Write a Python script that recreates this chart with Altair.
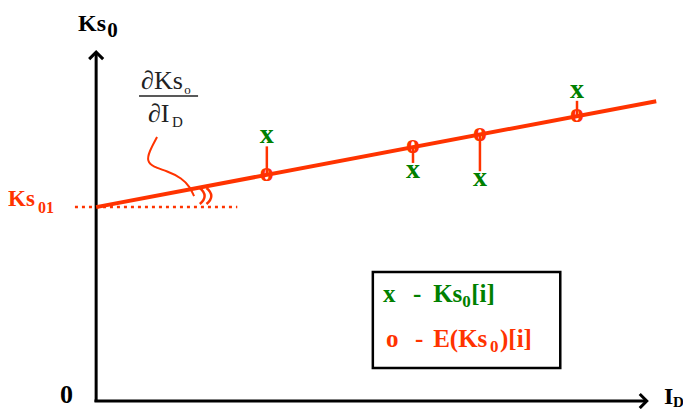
import altair as alt
import pandas as pd

RED = "#FF3300"
GREEN = "#008000"
BLACK = "#000000"
SERIF = "Liberation Serif"

# ---- data (arbitrary units: I_D horizontally, Ks0 vertically) ----
i_d = [3.06, 5.68, 6.88, 8.62]          # observation positions
ks0 = [7.64, 6.64, 6.40, 8.96]          # measured Ks0[i]  (x markers)
e_ks0 = [6.56, 7.36, 7.72, 8.26]        # expected E(Ks0)[i] (o markers)

fit_x = [0.0, 10.04]
fit_y = [5.62, 8.69]
ks01 = 5.62
ks01_span = [-0.38, 2.53]

axis_y_top = 10.11
axis_x_end = 9.87

# annotation curve (from fraction to angle)
curve_x = [1.092, 0.948, 0.912, 1.020, 1.271, 1.540, 1.683, 1.755]
curve_y = [7.652, 7.217, 6.956, 6.782, 6.666, 6.459, 6.198, 5.937]
angle_marks_x = [1.93, 2.05]
angle_marks_y = [5.94, 5.94]

frac_bar_x = [0.769, 1.827]
frac_bar_y = 8.84

legend_box = dict(x=4.96, x2=8.32, y=0.96, y2=3.74)

# bold labels
b_text = ["Ks", "0", "Ks", "01", "0", "I", "D",
          "x", "-", "Ks", "0", "[i]",
          "o", "-", "E(Ks", "0", ")[i]"]
b_x = [-0.324, 0.200, -1.578, -1.041, -0.647, 10.180, 10.341,
       5.144, 5.682, 6.041, 6.561, 6.722,
       5.198, 5.718, 6.041, 7.061, 7.240]
b_y = [10.723, 10.549, 5.652, 5.449, -0.056, -0.085, -0.170,
       2.870, 2.870, 2.870, 2.725, 2.870,
       1.567, 1.567, 1.567, 1.422, 1.567]
b_size = [24, 21, 23, 16, 26, 24, 15,
          25, 25, 25, 17, 25,
          25, 25, 25, 17, 25]
b_color = [BLACK, BLACK, RED, RED, BLACK, BLACK, BLACK,
           GREEN, GREEN, GREEN, GREEN, GREEN,
           RED, RED, RED, RED, RED]

# regular (fraction) labels
r_text = ["∂Ks", "o", "∂I", "D"]
r_x = [0.805, 1.58, 0.930, 1.36]
r_y = [9.043, 8.898, 8.084, 7.939]
r_size = [26, 13, 26, 15]

# ---- scales ----
xs = alt.Scale(domain=[-1.58, 10.52], nice=False, zero=False)
ys = alt.Scale(domain=[-0.23, 11.39], nice=False, zero=False)
X = lambda f: alt.X(f, type="quantitative", scale=xs, axis=None)
Y = lambda f: alt.Y(f, type="quantitative", scale=ys, axis=None)

# axes
axes_df = pd.DataFrame({
    "x": [0.0, -0.03], "x2": [0.0, axis_x_end],
    "y": [-0.03, 0.0], "y2": [axis_y_top, 0.0],
})
axes = alt.Chart(axes_df).mark_rule(color=BLACK, strokeWidth=3).encode(
    x=X("x"), x2="x2", y=Y("y"), y2="y2")

arrow_up = alt.Chart(pd.DataFrame({"x": [0.0], "y": [axis_y_top]})).mark_point(
    shape="M-1,1L0,0L1,1", size=196, filled=False, color=BLACK, strokeWidth=3,
    opacity=1).encode(x=X("x"), y=Y("y"))
arrow_right = alt.Chart(pd.DataFrame({"x": [axis_x_end], "y": [0.0]})).mark_point(
    shape="M-1,-1L0,0L-1,1", size=196, filled=False, color=BLACK, strokeWidth=3,
    opacity=1).encode(x=X("x"), y=Y("y"))

# dotted reference line
dotted = alt.Chart(pd.DataFrame({"x": [ks01_span[0]], "x2": [ks01_span[1]],
                                 "y": [ks01]})).mark_rule(
    color=RED, strokeWidth=2.5, strokeDash=[3, 4]).encode(
    x=X("x"), x2="x2", y=Y("y"))

# fitted line
fit = alt.Chart(pd.DataFrame({"x": fit_x, "y": fit_y})).mark_line(
    color=RED, strokeWidth=4).encode(x=X("x"), y=Y("y"))

# residual segments
res_df = pd.DataFrame({"x": i_d, "e": e_ks0, "k": ks0})
res_df["k_end"] = [k - 0.26 * (1 if k > e else -1) for k, e in zip(ks0, e_ks0)]
resid = alt.Chart(res_df).mark_rule(color=RED, strokeWidth=2.5).encode(
    x=X("x"), y=Y("e"), y2="k_end")

x_marks = alt.Chart(res_df).mark_text(
    text="x", font=SERIF, fontWeight="bold", fontSize=28, color=GREEN,
    baseline="middle", align="center", dy=-2).encode(x=X("x"), y=Y("k"))
o_marks = alt.Chart(res_df).mark_text(
    text="o", font=SERIF, fontWeight="bold", fontSize=28, color=RED,
    baseline="middle", align="center", dy=-2).encode(x=X("x"), y=Y("e"))

# annotation curve and angle marks
curve = alt.Chart(pd.DataFrame({"x": curve_x, "y": curve_y,
                                "o": list(range(len(curve_x)))})).mark_line(
    color=RED, strokeWidth=2, interpolate="basis").encode(
    x=X("x"), y=Y("y"), order="o:Q")
angles = alt.Chart(pd.DataFrame({"x": angle_marks_x, "y": angle_marks_y})).mark_point(
    shape="M-0.5,-1Q0.7,0 -0.5,1", size=256, filled=False, color=RED,
    strokeWidth=2.5, opacity=1).encode(x=X("x"), y=Y("y"))

frac_bar = alt.Chart(pd.DataFrame({"x": [frac_bar_x[0]], "x2": [frac_bar_x[1]],
                                   "y": [frac_bar_y]})).mark_rule(
    color="#222222", strokeWidth=1.5).encode(x=X("x"), x2="x2", y=Y("y"))

# legend box
box = alt.Chart(pd.DataFrame([legend_box])).mark_rect(
    fill="white", stroke=BLACK, strokeWidth=2.5).encode(
    x=X("x"), x2="x2", y=Y("y"), y2="y2")

bold_df = pd.DataFrame({"t": b_text, "x": b_x, "y": b_y, "s": b_size, "c": b_color})
bold = alt.Chart(bold_df).mark_text(
    font=SERIF, fontWeight="bold", align="left", baseline="alphabetic").encode(
    x=X("x"), y=Y("y"), text="t:N",
    size=alt.Size("s:Q", scale=None, legend=None),
    color=alt.Color("c:N", scale=None, legend=None))

reg_df = pd.DataFrame({"t": r_text, "x": r_x, "y": r_y, "s": r_size})
regular = alt.Chart(reg_df).mark_text(
    font=SERIF, align="left", baseline="alphabetic", color="#222222").encode(
    x=X("x"), y=Y("y"), text="t:N",
    size=alt.Size("s:Q", scale=None, legend=None))

chart = alt.layer(
    box, dotted, curve, angles, frac_bar, axes, arrow_up, arrow_right,
    fit, resid, x_marks, o_marks, bold, regular
).properties(
    width=675, height=401, padding=0, autosize=alt.AutoSizeParams(type="none")
).configure_view(stroke=None)

chart.save("out.html", embed_options={"renderer": "svg", "actions": False})
